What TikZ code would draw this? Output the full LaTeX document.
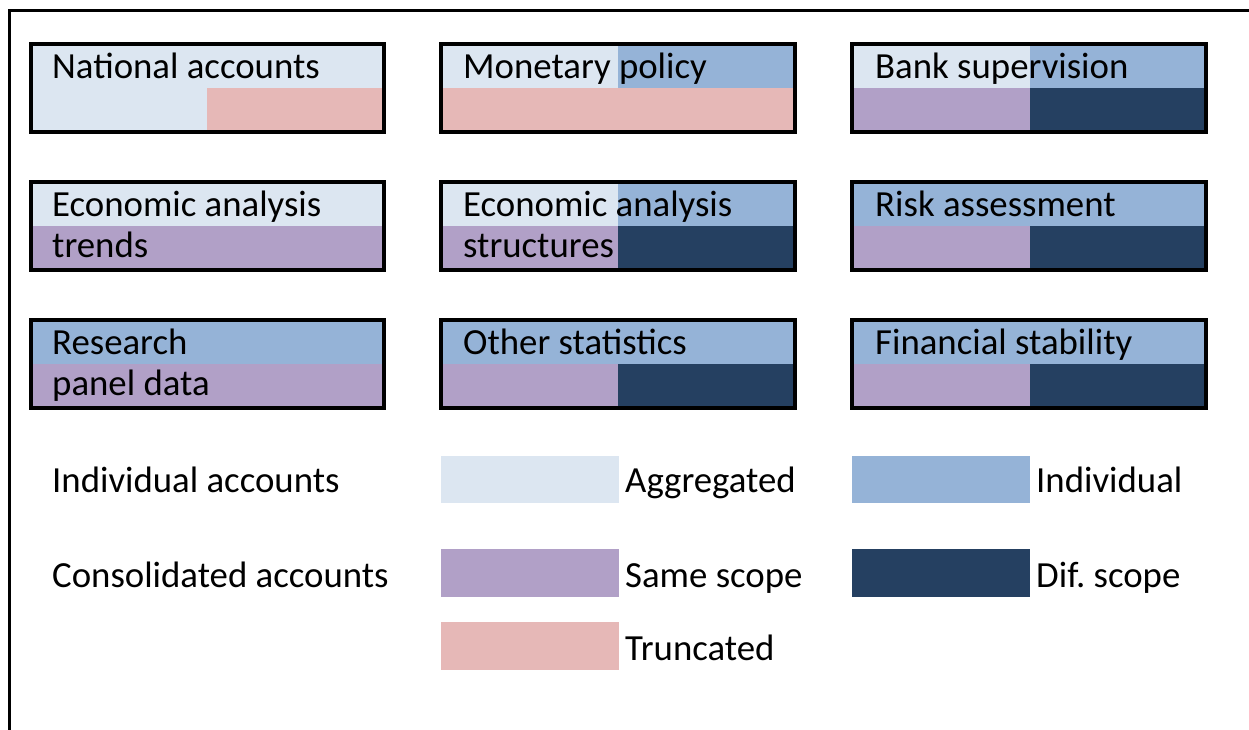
\documentclass[tikz,border=0pt]{standalone}
\usepackage{fontspec}
\setmainfont{Carlito}
\frenchspacing
\definecolor{agg}{HTML}{DCE6F1}
\definecolor{ind}{HTML}{95B3D7}
\definecolor{same}{HTML}{B1A0C7}
\definecolor{dif}{HTML}{254061}
\definecolor{trunc}{HTML}{E6B8B7}
\begin{document}
\begin{tikzpicture}[x=1pt,y=-1pt,
  txt/.style={anchor=base west, inner sep=0pt, font=\fontsize{36.8}{40}\selectfont},
  boxframe/.style={draw=black, line width=4pt},
  outerframe/.style={draw=black, line width=3pt}]
\useasboundingbox (0,0) rectangle (1249,729);
\draw[outerframe] (9,740) -- (9,10) -- (1260,10);
% ---------- row 1 ----------
% National accounts
\fill[agg] (31,44) rectangle (384,88);
\fill[agg] (31,88) rectangle (207,132);
\fill[trunc] (207,88) rectangle (384,132);
\draw[boxframe] (31,44) rectangle (384,132);
\node[txt] (t11) at (52,78) {National accounts};
% Monetary policy
\fill[agg] (441,44) rectangle (618,88);
\fill[ind] (618,44) rectangle (795,88);
\fill[trunc] (441,88) rectangle (795,132);
\draw[boxframe] (441,44) rectangle (795,132);
\node[txt] (t12) at (463,78) {Monetary policy};
% Bank supervision
\fill[agg] (852,44) rectangle (1030,88);
\fill[ind] (1030,44) rectangle (1206,88);
\fill[same] (852,88) rectangle (1030,132);
\fill[dif] (1030,88) rectangle (1206,132);
\draw[boxframe] (852,44) rectangle (1206,132);
\node[txt] (t13) at (875,78) {Bank supervision};
% ---------- row 2 ----------
\fill[agg] (31,182) rectangle (384,226);
\fill[same] (31,226) rectangle (384,270);
\draw[boxframe] (31,182) rectangle (384,270);
\node[txt] (t21) at (52,216) {Economic analysis};
\node[txt] (t21b) at (52,257) {trends};
\fill[agg] (441,182) rectangle (618,226);
\fill[ind] (618,182) rectangle (795,226);
\fill[same] (441,226) rectangle (618,270);
\fill[dif] (618,226) rectangle (795,270);
\draw[boxframe] (441,182) rectangle (795,270);
\node[txt] (t22) at (463,216) {Economic analysis};
\node[txt] (t22b) at (463,257) {structures};
\fill[ind] (852,182) rectangle (1206,226);
\fill[same] (852,226) rectangle (1030,270);
\fill[dif] (1030,226) rectangle (1206,270);
\draw[boxframe] (852,182) rectangle (1206,270);
\node[txt] (t23) at (875,216) {Risk assessment};
% ---------- row 3 ----------
\fill[ind] (31,320) rectangle (384,364);
\fill[same] (31,364) rectangle (384,408);
\draw[boxframe] (31,320) rectangle (384,408);
\node[txt] (t31) at (52,354) {Research};
\node[txt] (t31b) at (52,395) {panel data};
\fill[ind] (441,320) rectangle (795,364);
\fill[same] (441,364) rectangle (618,408);
\fill[dif] (618,364) rectangle (795,408);
\draw[boxframe] (441,320) rectangle (795,408);
\node[txt] (t32) at (463,354) {Other statistics};
\fill[ind] (852,320) rectangle (1206,364);
\fill[same] (852,364) rectangle (1030,408);
\fill[dif] (1030,364) rectangle (1206,408);
\draw[boxframe] (852,320) rectangle (1206,408);
\node[txt] (t33) at (875,354) {Financial stability};
% ---------- legend ----------
\node[txt] (lind) at (52,492) {Individual accounts};
\node[txt] (lcons) at (52,587) {Consolidated accounts};
\fill[agg] (441,456) rectangle (619,503);
\node[txt] (lagg) at (625,492) {Aggregated};
\fill[ind] (852,456) rectangle (1030,503);
\node[txt] (lindv) at (1036,492) {Individual};
\fill[same] (441,549) rectangle (619,597);
\node[txt] (lsame) at (625,587) {Same scope};
\fill[dif] (852,549) rectangle (1030,597);
\node[txt] (ldif) at (1036,587) {Dif. scope};
\fill[trunc] (441,622) rectangle (619,670);
\node[txt] (ltrunc) at (625,660) {Truncated};
\end{tikzpicture}
\end{document}
